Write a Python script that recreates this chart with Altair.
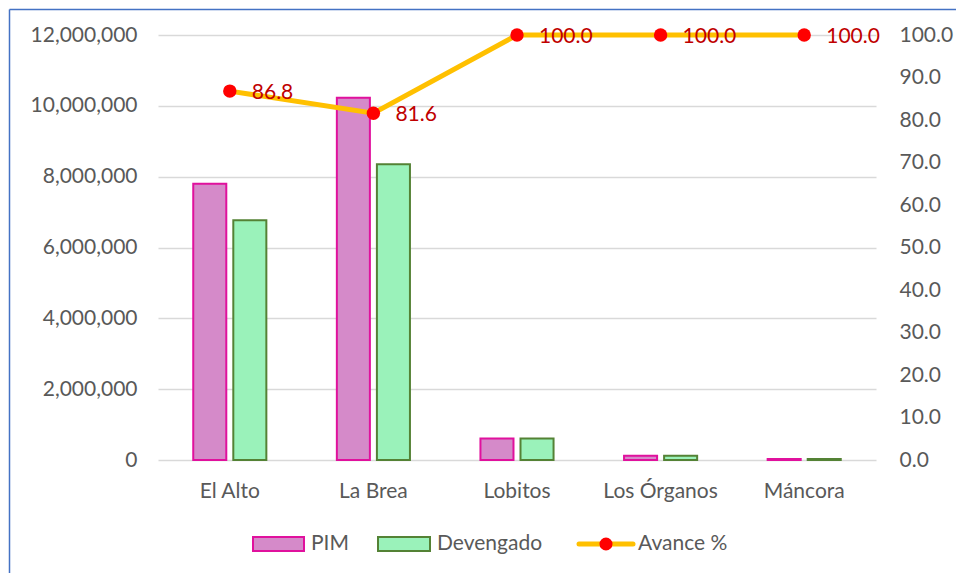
import altair as alt
import pandas as pd

distritos = ["El Alto", "La Brea", "Lobitos", "Los Órganos", "Máncora"]
pim = [7800000, 10230000, 610000, 120000, 25000]
devengado = [6770000, 8350000, 610000, 120000, 25000]
avance = [86.8, 81.6, 100.0, 100.0, 100.0]
series = ["PIM", "Devengado"]
legend_labels = ["PIM", "Devengado", "Avance %"]

FONT = "Lato"
GREY = "#595959"

df = pd.DataFrame({"Distrito": distritos, "PIM": pim, "Devengado": devengado, "Avance": avance})

W, H = 718, 425
PAD = {"left": 150, "top": 27, "right": 80, "bottom": 113}

base = alt.Chart(df)

x_enc = alt.X("Distrito:N", sort=distritos, title=None,
              scale=alt.Scale(paddingInner=0, paddingOuter=0),
              axis=alt.Axis(labelAngle=0, domain=False, ticks=False, grid=False, labelPadding=20,
                            labelFontSize=21, labelFont=FONT, labelColor=GREY))

bars = base.transform_fold(series, as_=["Serie", "Valor"]).mark_bar(strokeWidth=2).encode(
    x=x_enc,
    xOffset=alt.XOffset("Serie:N", sort=series,
                        scale=alt.Scale(domain=series, paddingInner=0.175, paddingOuter=0.88)),
    y=alt.Y("Valor:Q", title=None,
            scale=alt.Scale(domain=[0, 12000000], nice=False),
            axis=alt.Axis(values=list(range(0, 12000001, 2000000)), format=",.0f",
                          domain=False, domainOpacity=0, ticks=False, labelPadding=21, grid=True,
                          gridColor="#D9D9D9", gridWidth=1.3,
                          labelFontSize=21, labelFont=FONT, labelColor=GREY)),
    fill=alt.Fill("Serie:N", sort=series, legend=None,
                  scale=alt.Scale(domain=series, range=["#D58AC9", "#9AF2BA"])),
    stroke=alt.Stroke("Serie:N", sort=series, legend=None,
                      scale=alt.Scale(domain=series, range=["#E0119D", "#548235"])),
)

right_axis = alt.Axis(orient="right", values=list(range(0, 101, 10)), format=".1f",
                      domain=False, domainOpacity=0, ticks=False, labelPadding=23, grid=False,
                      labelFontSize=21, labelFont=FONT, labelColor=GREY)
y_right = alt.Y("Avance:Q", title=None, scale=alt.Scale(domain=[0, 100], nice=False), axis=right_axis)

line = base.mark_line(color="#FFC000", strokeWidth=5).encode(x=x_enc, y=y_right)
points = base.mark_point(filled=True, color="#FF0000", size=180, opacity=1).encode(x=x_enc, y=y_right)
labels = base.mark_text(align="left", baseline="middle", dx=22, dy=2, color="#C00000",
                        fontSize=21, font=FONT).encode(
    x=x_enc, y=y_right, text=alt.Text("Avance:Q", format=".1f"))

right = alt.layer(line, points, labels)

# manual legend (decoration)
one = alt.Chart(pd.DataFrame({"k": [0]}))
ly = 509
leg = [
    one.mark_rect(fill="#D58AC9", stroke="#E0119D", strokeWidth=2).encode(
        x=alt.value(95), x2=alt.value(146), y=alt.value(ly - 7), y2=alt.value(ly + 7)),
    one.mark_text(align="left", baseline="middle", fontSize=21, font=FONT, color=GREY, text=legend_labels[0]).encode(
        x=alt.value(153), y=alt.value(ly)),
    one.mark_rect(fill="#9AF2BA", stroke="#548235", strokeWidth=2).encode(
        x=alt.value(220), x2=alt.value(272), y=alt.value(ly - 7), y2=alt.value(ly + 7)),
    one.mark_text(align="left", baseline="middle", fontSize=21, font=FONT, color=GREY, text=legend_labels[1]).encode(
        x=alt.value(279), y=alt.value(ly)),
    one.mark_rule(color="#FFC000", strokeWidth=5, strokeCap="round").encode(
        x=alt.value(421), x2=alt.value(475), y=alt.value(ly)),
    one.mark_point(filled=True, color="#FF0000", size=170, opacity=1).encode(
        x=alt.value(448), y=alt.value(ly)),
    one.mark_text(align="left", baseline="middle", fontSize=21, font=FONT, color=GREY, text=legend_labels[2]).encode(
        x=alt.value(480), y=alt.value(ly)),
    # frame lines
    one.mark_rule(color="#4472C4", strokeWidth=1.5).encode(
        x=alt.value(-148.5), y=alt.value(-25.5), y2=alt.value(540)),
    one.mark_rule(color="#4472C4", strokeWidth=1.5).encode(
        x=alt.value(-148.5), x2=alt.value(798), y=alt.value(-25.5)),
]

chart = alt.layer(bars, right, *leg).resolve_scale(
    y="independent", fill="independent", stroke="independent"
).properties(
    width=W, height=H,
    autosize=alt.AutoSizeParams(type="none"),
    padding=PAD,
).configure(
    background="white",
    view=alt.ViewConfig(stroke="transparent", strokeOpacity=0, strokeWidth=0),
    axis=alt.AxisConfig(domain=False, domainOpacity=0, ticks=False),
    axisY=alt.AxisConfig(domain=False, domainOpacity=0, domainColor="transparent"),
    axisX=alt.AxisConfig(grid=False, domain=False, gridOpacity=0),
    axisBand=alt.AxisConfig(grid=False, gridOpacity=0),
)

chart.save("out.html", embed_options={"renderer": "svg", "actions": False})
